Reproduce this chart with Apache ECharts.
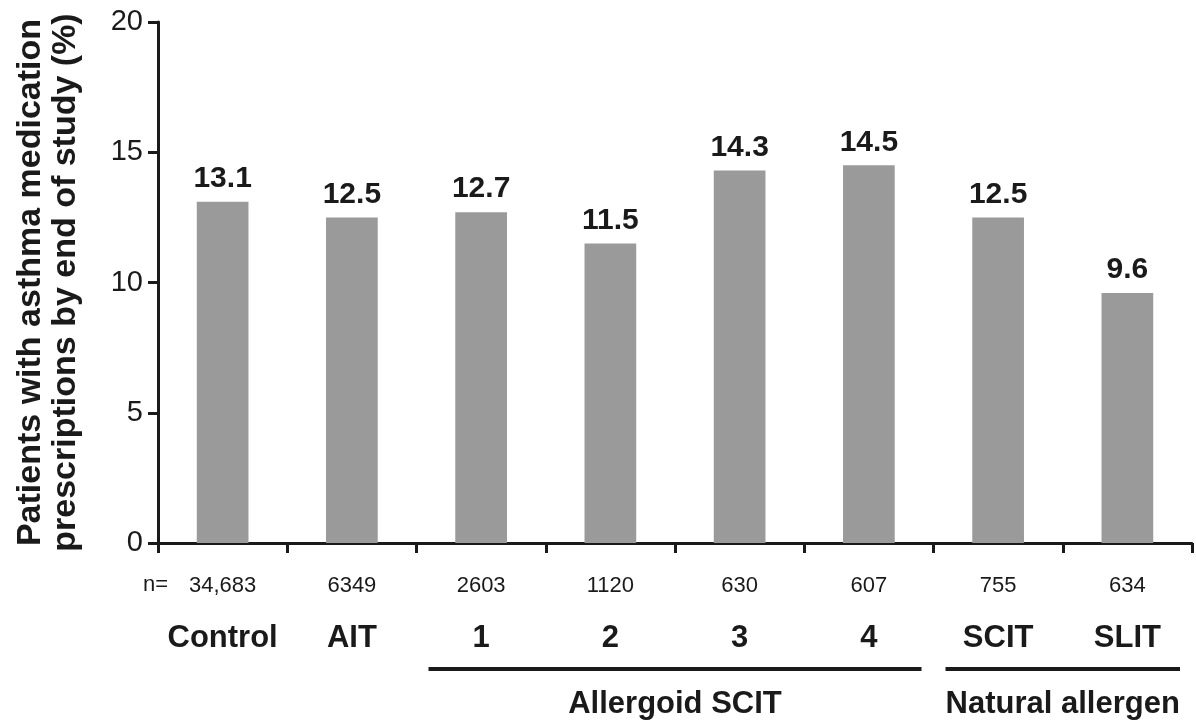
<!DOCTYPE html>
<html>
<head>
<meta charset="utf-8">
<script src="https://cdn.jsdelivr.net/npm/echarts@6/dist/echarts.min.js"></script>
<style>
  html, body { margin: 0; padding: 0; background: #fff; }
  #chart { width: 1196px; height: 724px; }
</style>
</head>
<body>
<div id="chart"></div>
<script>
  // data
  const categories = ['Control', 'AIT', '1', '2', '3', '4', 'SCIT', 'SLIT'];
  const sampleSizes = ['34,683', '6349', '2603', '1120', '630', '607', '755', '634'];
  const percentValues = [13.1, 12.5, 12.7, 11.5, 14.3, 14.5, 12.5, 9.6];
  const yTicks = [0, 5, 10, 15, 20];
  const groupNames = ['Allergoid SCIT', 'Natural allergen'];
  const groupStart = [2, 6];
  const groupEnd = [5, 7];

  const FONT = '"Liberation Sans", Arial, sans-serif';
  const INK = '#1a1a1a';

  const chart = echarts.init(document.getElementById('chart'));

  const option = {
    animation: false,
    backgroundColor: '#fff',
    grid: { left: 158, right: 4, top: 22, bottom: 181, containLabel: false },
    xAxis: {
      type: 'category',
      data: categories,
      axisLine: { lineStyle: { color: INK, width: 3 } },
      axisTick: { show: true, length: 10, lineStyle: { color: INK, width: 3 } },
      axisLabel: {
        margin: 16,
        interval: 0,
        formatter: function (value, idx) {
          return '{n|' + sampleSizes[idx] + '}\n{c|' + value + '}';
        },
        rich: {
          n: { fontFamily: FONT, fontSize: 22, color: INK, lineHeight: 53 },
          c: { fontFamily: FONT, fontSize: 31, fontWeight: 'bold', color: INK, lineHeight: 53 }
        }
      }
    },
    yAxis: {
      type: 'value',
      min: yTicks[0],
      max: yTicks[yTicks.length - 1],
      interval: yTicks[1] - yTicks[0],
      name: 'Patients with asthma medication\nprescriptions by end of study (%)',
      nameLocation: 'middle',
      nameGap: 75,
      nameTextStyle: { fontFamily: FONT, fontSize: 34, fontWeight: 'bold', color: INK, lineHeight: 35 },
      splitLine: { show: false },
      axisLine: { show: true, lineStyle: { color: INK, width: 3 } },
      axisTick: { show: true, length: 10, lineStyle: { color: INK, width: 3 } },
      axisLabel: { fontFamily: FONT, fontSize: 29, color: INK, margin: 15 }
    },
    series: [
      {
        type: 'bar',
        data: percentValues,
        barWidth: '40%',
        itemStyle: { color: '#999a99' },
        label: {
          show: true,
          position: 'top',
          distance: 8,
          fontFamily: FONT,
          fontSize: 30,
          fontWeight: 'bold',
          color: INK,
          formatter: function (p) { return p.value.toFixed(1); }
        }
      }
    ]
  };
  chart.setOption(option);

  // group brackets under the category labels
  function px(i) {
    return chart.convertToPixel({ xAxisIndex: 0 }, categories[i]);
  }
  const half = (px(1) - px(0)) / 2;
  const graphics = [
    {
      type: 'text',
      left: 143,
      top: 574,
      style: { text: 'n=', font: '22px ' + FONT, fill: INK }
    }
  ];
  groupNames.forEach(function (name, g) {
    const x1 = px(groupStart[g]) - half + 12;
    const x2 = px(groupEnd[g]) + half - 12;
    graphics.push({
      type: 'line',
      shape: { x1: x1, y1: 669, x2: x2, y2: 669 },
      style: { stroke: INK, lineWidth: 4 }
    });
    graphics.push({
      type: 'text',
      x: (px(groupStart[g]) + px(groupEnd[g])) / 2,
      y: 704,
      style: {
        text: name,
        font: 'bold 31px ' + FONT,
        fill: INK,
        textAlign: 'center',
        textVerticalAlign: 'middle'
      }
    });
  });
  chart.setOption({ graphic: graphics });
</script>
</body>
</html>
